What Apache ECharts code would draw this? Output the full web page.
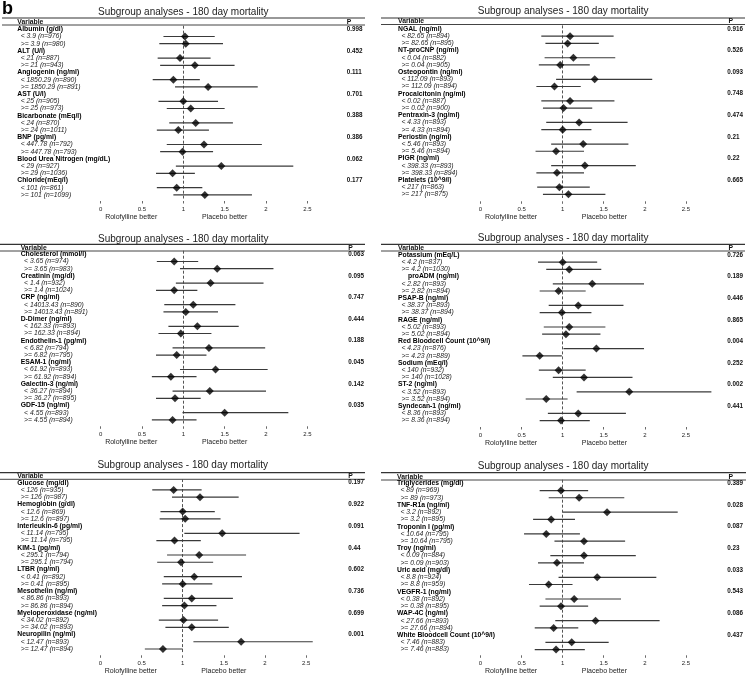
<!DOCTYPE html>
<html><head><meta charset="utf-8">
<script src="https://cdn.jsdelivr.net/npm/echarts@6/dist/echarts.min.js"></script>
<style>html,body{margin:0;padding:0;background:#fff}#c{width:746px;height:676px}</style>
</head><body><div id="c"></div>
<script>
// ---------- DATA ----------
const tickValues = [0, 0.5, 1, 1.5, 2, 2.5];

const vars1 = ['Albumin (g/dl)', 'ALT (U/l)', 'Angiogenin (ng/ml)', 'AST (U/l)', 'Bicarbonate (mEq/l)', 'BNP (pg/ml)', 'Blood Urea Nitrogen (mg/dL)', 'Chloride(mEq/l)'];
const subs1 = ['< 3.9 (n=976)', '>= 3.9 (n=980)', '< 21 (n=887)', '>= 21 (n=943)', '< 1850.29 (n=890)', '>= 1850.29 (n=891)', '< 25 (n=905)', '>= 25 (n=973)', '< 24 (n=870)', '>= 24 (n=1011)', '< 447.78 (n=792)', '>= 447.78 (n=793)', '< 29 (n=927)', '>= 29 (n=1036)', '< 101 (n=861)', '>= 101 (n=1099)'];
const est1 = [1.02, 1.03, 0.96, 1.14, 0.88, 1.30, 1.00, 1.09, 1.15, 0.94, 1.25, 0.99, 1.46, 0.87, 0.92, 1.26];
const lo1 = [0.76, 0.71, 0.69, 0.72, 0.63, 0.90, 0.70, 0.80, 0.83, 0.68, 0.80, 0.72, 0.91, 0.67, 0.68, 0.88];
const hi1 = [1.38, 1.48, 1.33, 1.62, 1.20, 1.90, 1.42, 1.50, 1.60, 1.31, 1.95, 1.36, 2.33, 1.14, 1.23, 1.83];
const pv1 = ['0.998', '0.452', '0.111', '0.701', '0.388', '0.386', '0.062', '0.177'];

const vars2 = ['NGAL (ng/ml)', 'NT-proCNP (ng/ml)', 'Osteopontin (ng/ml)', 'Procalcitonin (ng/ml)', 'Pentraxin-3 (ng/ml)', 'Periostin (ng/ml)', 'PIGR (ng/ml)', 'Platelets (10^9/l)'];
const subs2 = ['< 82.65 (n=894)', '>= 82.65 (n=895)', '< 0.04 (n=882)', '>= 0.04 (n=905)', '< 112.09 (n=893)', '>= 112.09 (n=894)', '< 0.02 (n=887)', '>= 0.02 (n=900)', '< 4.33 (n=893)', '>= 4.33 (n=894)', '< 5.46 (n=893)', '>= 5.46 (n=894)', '< 398.33 (n=893)', '>= 398.33 (n=894)', '< 217 (n=863)', '>= 217 (n=875)'];
const est2 = [1.09, 1.06, 1.13, 0.97, 1.39, 0.90, 1.09, 1.01, 1.20, 1.00, 1.25, 0.92, 1.27, 0.93, 0.96, 1.07];
const lo2 = [0.74, 0.79, 0.78, 0.71, 0.92, 0.68, 0.74, 0.76, 0.80, 0.74, 0.86, 0.67, 0.86, 0.68, 0.69, 0.76];
const hi2 = [1.62, 1.44, 1.64, 1.33, 2.09, 1.22, 1.63, 1.36, 1.79, 1.35, 1.80, 1.26, 1.89, 1.26, 1.33, 1.52];
const pv2 = ['0.916', '0.526', '0.093', '0.748', '0.474', '0.21', '0.22', '0.665'];

const vars3 = ['Cholesterol (mmol/l)', 'Creatinin (mg/dl)', 'CRP (ng/ml)', 'D-Dimer (ng/ml)', 'Endothelin-1 (pg/ml)', 'ESAM-1 (ng/ml)', 'Galectin-3 (ng/ml)', 'GDF-15 (ng/ml)'];
const subs3 = ['< 3.65 (n=974)', '>= 3.65 (n=983)', '< 1.4 (n=932)', '>= 1.4 (n=1024)', '< 14013.43 (n=890)', '>= 14013.43 (n=891)', '< 162.33 (n=893)', '>= 162.33 (n=894)', '< 6.82 (n=794)', '>= 6.82 (n=795)', '< 61.92 (n=893)', '>= 61.92 (n=894)', '< 36.27 (n=894)', '>= 36.27 (n=895)', '< 4.55 (n=893)', '>= 4.55 (n=894)'];
const est3 = [0.89, 1.41, 1.33, 0.89, 1.12, 1.03, 1.17, 0.97, 1.31, 0.92, 1.39, 0.85, 1.32, 0.90, 1.50, 0.87];
const lo3 = [0.68, 0.96, 0.91, 0.67, 0.77, 0.76, 0.82, 0.70, 0.87, 0.67, 0.96, 0.62, 0.87, 0.67, 0.99, 0.62];
const hi3 = [1.18, 2.09, 1.97, 1.17, 1.63, 1.42, 1.67, 1.34, 1.99, 1.28, 2.02, 1.16, 2.00, 1.21, 2.27, 1.16];
const pv3 = ['0.063', '0.095', '0.747', '0.444', '0.188', '0.045', '0.142', '0.035'];

const vars4 = ['Potassium (mEq/L)', 'proADM (ng/ml)', 'PSAP-B (ng/ml)', 'RAGE (ng/ml)', 'Red Bloodcell Count (10^9/l)', 'Sodium (mEq/l)', 'ST-2 (ng/ml)', 'Syndecan-1 (ng/ml)'];
const subs4 = ['< 4.2 (n=837)', '>= 4.2 (n=1030)', '< 2.82 (n=893)', '>= 2.82 (n=894)', '< 38.37 (n=893)', '>= 38.37 (n=894)', '< 5.02 (n=893)', '>= 5.02 (n=894)', '< 4.23 (n=876)', '>= 4.23 (n=889)', '< 140 (n=932)', '>= 140 (n=1028)', '< 3.52 (n=893)', '>= 3.52 (n=894)', '< 8.36 (n=893)', '>= 8.36 (n=894)'];
const est4 = [1.00, 1.08, 1.36, 0.95, 1.19, 0.99, 1.08, 1.04, 1.41, 0.72, 0.95, 1.26, 1.81, 0.80, 1.19, 0.98];
const lo4 = [0.70, 0.80, 0.88, 0.72, 0.83, 0.72, 0.77, 0.75, 1.01, 0.51, 0.71, 0.88, 1.17, 0.55, 0.82, 0.72];
const hi4 = [1.42, 1.47, 1.99, 1.28, 1.74, 1.35, 1.52, 1.46, 1.99, 0.99, 1.28, 1.85, 2.81, 1.06, 1.77, 1.33];
const pv4 = ['0.726', '0.189', '0.446', '0.865', '0.004', '0.252', '0.002', '0.441'];

const vars5 = ['Glucose (mg/dl)', 'Hemoglobin (g/dl)', 'Interleukin-6 (pg/ml)', 'KIM-1 (pg/ml)', 'LTBR (ng/ml)', 'Mesothelin (ng/ml)', 'Myeloperoxidase (ng/ml)', 'Neuropilin (ng/ml)'];
const subs5 = ['< 126 (n=935)', '>= 126 (n=987)', '< 12.6 (n=869)', '>= 12.6 (n=897)', '< 11.14 (n=795)', '>= 11.14 (n=795)', '< 295.1 (n=794)', '>= 295.1 (n=794)', '< 0.41 (n=892)', '>= 0.41 (n=895)', '< 86.86 (n=893)', '>= 86.86 (n=894)', '< 34.02 (n=892)', '>= 34.02 (n=893)', '< 12.47 (n=893)', '>= 12.47 (n=894)'];
const est5 = [0.89, 1.21, 1.00, 1.03, 1.48, 0.90, 1.20, 0.98, 1.14, 1.00, 1.11, 1.02, 1.01, 1.11, 1.71, 0.76];
const lo5 = [0.63, 0.87, 0.73, 0.72, 1.02, 0.68, 0.81, 0.69, 0.77, 0.75, 0.77, 0.75, 0.71, 0.79, 1.13, 0.54];
const hi5 = [1.23, 1.68, 1.39, 1.46, 2.42, 1.22, 1.77, 1.37, 1.72, 1.36, 1.61, 1.41, 1.43, 1.56, 2.58, 1.00];
const pv5 = ['0.197', '0.922', '0.091', '0.44', '0.602', '0.736', '0.699', '0.001'];

const vars6 = ['Triglycerides (mg/dl)', 'TNF-R1a (ng/ml)', 'Troponin I (pg/ml)', 'Troy (ng/ml)', 'Uric acid (mg/dl)', 'VEGFR-1 (ng/ml)', 'WAP-4C (ng/ml)', 'White Bloodcell Count (10^9/l)'];
const subs6 = ['< 89 (n=969)', '>= 89 (n=973)', '< 3.2 (n=892)', '>= 3.2 (n=895)', '< 10.64 (n=795)', '>= 10.64 (n=795)', '< 0.09 (n=884)', '>= 0.09 (n=903)', '< 8.8 (n=924)', '>= 8.8 (n=959)', '< 0.38 (n=892)', '>= 0.38 (n=895)', '< 27.66 (n=893)', '>= 27.66 (n=894)', '< 7.46 (n=883)', '>= 7.46 (n=883)'];
const est6 = [0.98, 1.20, 1.54, 0.86, 0.80, 1.26, 1.26, 0.93, 1.42, 0.83, 1.14, 0.98, 1.40, 0.89, 1.11, 0.92];
const lo6 = [0.72, 0.83, 1.00, 0.64, 0.53, 0.90, 0.85, 0.70, 0.95, 0.59, 0.79, 0.72, 0.91, 0.66, 0.79, 0.66];
const hi6 = [1.31, 1.75, 2.40, 1.15, 1.21, 1.76, 1.89, 1.26, 2.14, 1.12, 1.71, 1.31, 2.18, 1.19, 1.56, 1.27];
const pv6 = ['0.389', '0.028', '0.087', '0.23', '0.033', '0.543', '0.086', '0.437'];

const panelTitle = 'Subgroup analyses - 180 day mortality';
const headerVar = 'Variable';
const headerP = 'P';
const leftName = 'Rolofylline better';
const rightName = 'Placebo better';
const panelLetter = 'b';

// ---------- LAYOUT ----------
const layouts = [
  {x0: 100.6, sc: 82.7, top: 29.3, sp: 7.2, lx: 17.3, px: 346.7, ty: 12, r1: 18, r2: 25, rx: [2, 365], tly: 209, ny: 217},
  {x0: 480.5, sc: 82.6, top: 29.0, sp: 7.19, lx: 398, px: 728.5, ty: 11.7, r1: 18, r2: 24.5, rx: [381, 745], tly: 209.3, ny: 217.3},
  {x0: 100.6, sc: 82.7, top: 254.3, sp: 7.2, lx: 20.7, px: 348.3, ty: 239, r1: 244.3, r2: 251, rx: [0, 365], tly: 434.3, ny: 442.3},
  {x0: 480.5, sc: 82.6, top: 255.0, sp: 7.2, lx: 398, px: 728.5, ty: 238.3, r1: 244.3, r2: 251, rx: [381, 745], tly: 435, ny: 442.7},
  {x0: 100.4, sc: 82.3, top: 482.7, sp: 7.23, lx: 17.3, px: 348.3, ty: 465.7, r1: 472.7, r2: 479.3, rx: [0, 365], tly: 663.3, ny: 671},
  {x0: 480.5, sc: 82.6, top: 483.3, sp: 7.23, lx: 397, px: 728.5, ty: 466.7, r1: 472.7, r2: 480, rx: [381, 746], tly: 663.3, ny: 671}
];
const panelData = [
  [vars1, subs1, est1, lo1, hi1, pv1],
  [vars2, subs2, est2, lo2, hi2, pv2],
  [vars3, subs3, est3, lo3, hi3, pv3],
  [vars4, subs4, est4, lo4, hi4, pv4],
  [vars5, subs5, est5, lo5, hi5, pv5],
  [vars6, subs6, est6, lo6, hi6, pv6]
];

const FONT = '"Liberation Sans", Arial, Helvetica, sans-serif';
const XMAX = 2.9;
const LABEL_FS = 6.8;

const grid = [], xAxis = [], yAxis = [], series = [], graphic = [];

panelData.forEach(([vars, subs, est, lo, hi, pv], i) => {
  const L = layouts[i];
  const gTop = L.top - L.sp / 2;
  const gH = L.sp * 24;
  const gW = L.sc * XMAX;
  grid.push({left: L.x0, top: gTop, width: gW, height: gH});

  const rows = [], rowKind = [], pRow = [];
  vars.forEach((v, k) => {
    rows.push(v); rowKind.push(v.indexOf('proADM') === 0 ? 'hi' : 'h'); pRow.push(pv[k]);
    rows.push(subs[2 * k]); rowKind.push('s'); pRow.push('');
    rows.push(subs[2 * k + 1]); rowKind.push('s'); pRow.push('');
  });

  const tickTop = L.tly - 8;
  xAxis.push({
    gridIndex: i, type: 'value', min: 0, max: XMAX,
    offset: tickTop - (gTop + gH),
    axisLine: {show: false},
    splitLine: {show: false},
    axisTick: {show: true, customValues: tickValues, length: 2.5, lineStyle: {color: '#444', width: 0.8}},
    axisLabel: {customValues: tickValues, fontSize: 6, color: '#222', fontFamily: FONT, margin: 5}
  });

  yAxis.push({
    gridIndex: i, type: 'category', inverse: true, data: rows,
    axisLine: {show: false}, axisTick: {show: false}, splitLine: {show: false},
    axisLabel: {
      interval: 0, align: 'left', margin: L.x0 - L.lx, fontFamily: FONT, fontSize: LABEL_FS, color: '#111',
      formatter: (val, idx) => '{' + rowKind[idx] + '|' + val + '}',
      rich: {
        h: {fontWeight: 'bold', fontSize: LABEL_FS, fontFamily: FONT, color: '#000'},
        hi: {fontWeight: 'bold', fontSize: LABEL_FS, fontFamily: FONT, color: '#000', padding: [0, 0, 0, 10]},
        s: {fontStyle: 'italic', fontSize: LABEL_FS, fontFamily: FONT, color: '#222', padding: [0, 0, 0, 3.4]}
      }
    }
  });
  yAxis.push({
    gridIndex: i, type: 'category', inverse: true, position: 'right',
    data: rows.map((_, k) => 'r' + k),
    axisLine: {show: false}, axisTick: {show: false}, splitLine: {show: false},
    axisLabel: {
      interval: 0, align: 'left', margin: L.px - (L.x0 + gW),
      fontFamily: FONT, fontSize: 6.3, fontWeight: 'bold', color: '#111',
      formatter: (val, idx) => pRow[idx]
    }
  });

  const ciData = [], ptData = [];
  est.forEach((e, k) => {
    const row = 3 * Math.floor(k / 2) + 1 + (k % 2);
    ciData.push([lo[k], hi[k], row]);
    ptData.push([e, row]);
  });

  series.push({
    type: 'custom', xAxisIndex: i, yAxisIndex: 2 * i, silent: true,
    data: ciData, encode: {x: [0, 1], y: 2},
    renderItem: (params, api) => {
      const a = api.coord([api.value(0), api.value(2)]);
      const b = api.coord([api.value(1), api.value(2)]);
      return {type: 'line', shape: {x1: a[0], y1: a[1], x2: b[0], y2: b[1]},
              style: {stroke: '#3a3a3a', lineWidth: 1.2}};
    },
    z: 2
  });
  series.push({
    type: 'scatter', xAxisIndex: i, yAxisIndex: 2 * i, silent: true,
    data: ptData, symbol: 'diamond', symbolSize: 8,
    itemStyle: {color: '#000'}, z: 3,
    markLine: {
      silent: true, symbol: ['none', 'none'], label: {show: false},
      lineStyle: {type: [3, 2], color: '#555', width: 1},
      data: [{xAxis: 1}], z: 1
    }
  });

  graphic.push({type: 'text', x: L.x0 + L.sc, y: L.ty,
    style: {text: panelTitle, font: '10px ' + FONT, fill: '#222', align: 'center', verticalAlign: 'middle'}});
  graphic.push({type: 'line', shape: {x1: L.rx[0], y1: L.r1, x2: L.rx[1], y2: L.r1}, style: {stroke: '#333', lineWidth: 1.2}});
  graphic.push({type: 'line', shape: {x1: L.rx[0], y1: L.r2, x2: L.rx[1], y2: L.r2}, style: {stroke: '#444', lineWidth: 1}});
  const hy = (L.r1 + L.r2) / 2 + 0.3;
  graphic.push({type: 'text', x: L.lx, y: hy,
    style: {text: headerVar, font: 'bold ' + LABEL_FS + 'px ' + FONT, fill: '#111', align: 'left', verticalAlign: 'middle'}});
  graphic.push({type: 'text', x: L.px, y: hy,
    style: {text: headerP, font: 'bold ' + LABEL_FS + 'px ' + FONT, fill: '#111', align: 'left', verticalAlign: 'middle'}});
  graphic.push({type: 'text', x: L.x0 + 0.37 * L.sc, y: L.ny,
    style: {text: leftName, font: '7px ' + FONT, fill: '#222', align: 'center', verticalAlign: 'middle'}});
  graphic.push({type: 'text', x: L.x0 + 1.5 * L.sc, y: L.ny,
    style: {text: rightName, font: '7px ' + FONT, fill: '#222', align: 'center', verticalAlign: 'middle'}});
});

graphic.push({type: 'text', x: 2, y: 0,
  style: {text: panelLetter, font: 'bold 18px ' + FONT, fill: '#000', align: 'left', verticalAlign: 'top'}});

const chart = echarts.init(document.getElementById('c'), null, {renderer: 'canvas'});
chart.setOption({
  animation: false,
  backgroundColor: '#fff',
  grid, xAxis, yAxis, series, graphic
});
</script>
</body></html>
